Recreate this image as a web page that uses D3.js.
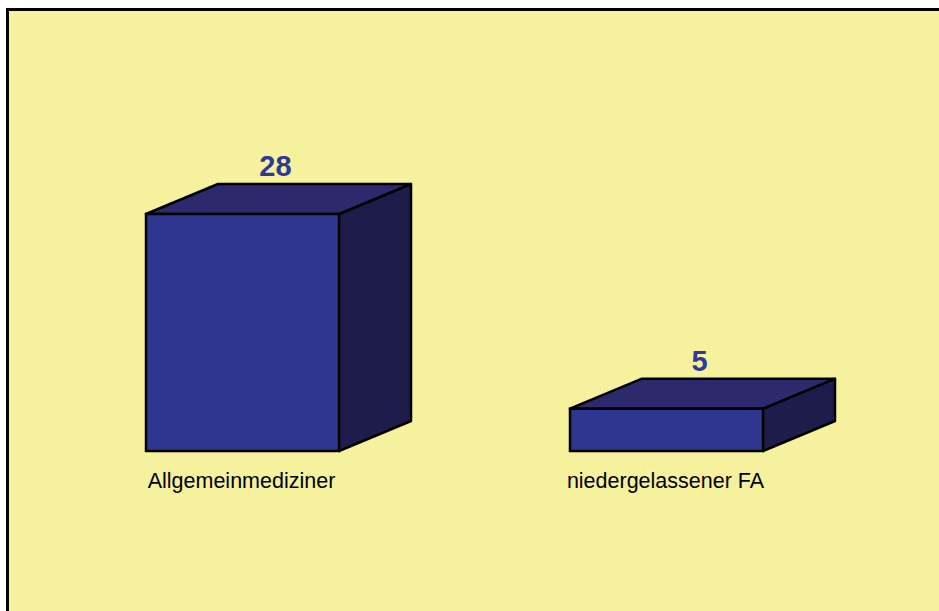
<!DOCTYPE html>
<html><head><meta charset="utf-8">
<script src="https://cdn.jsdelivr.net/npm/d3@7"></script>
<style>html,body{margin:0;padding:0;background:#fff;overflow:hidden}</style>
</head><body>
<script>
const categories = ["Allgemeinmediziner", "niedergelassener FA"];
const values = [28, 5];

const W = 939, H = 611;
const svg = d3.select("body").append("svg").attr("width", W).attr("height", H);

svg.append("rect").attr("x", 7.5).attr("y", 9.5).attr("width", W + 20).attr("height", H + 20)
  .attr("fill", "#F5F19D").attr("stroke", "#000").attr("stroke-width", 3);

const x = d3.scaleBand().domain(categories).range([146, 763]).paddingInner(0.5448).paddingOuter(0);
const y = d3.scaleLinear().domain([0, d3.max(values)]).range([451, 214]);
const dx = 72, dy = 30;

const g = svg.append("g");
categories.forEach((c, i) => {
  const x0 = x(c), x1 = x0 + x.bandwidth(), y0 = y(0), y1 = y(values[i]);
  g.append("path").attr("d", `M${x1},${y1}L${x1+dx},${y1-dy}L${x1+dx},${y0-dy}L${x1},${y0}Z`)
    .attr("fill", "#1E1C4A").attr("stroke", "#000").attr("stroke-width", 2.5).attr("stroke-linejoin", "round");
  g.append("path").attr("d", `M${x0},${y1}L${x0+dx},${y1-dy}L${x1+dx},${y1-dy}L${x1},${y1}Z`)
    .attr("fill", "#2C2A6C").attr("stroke", "#000").attr("stroke-width", 2.5).attr("stroke-linejoin", "round");
  g.append("rect").attr("x", x0).attr("y", y1).attr("width", x1 - x0).attr("height", y0 - y1)
    .attr("fill", "#2E3790").attr("stroke", "#000").attr("stroke-width", 2.5);
  g.append("text").attr("x", (x0 + x1) / 2 + 33).attr("y", y1 - dy - 8)
    .attr("text-anchor", "middle").attr("font-family", "Liberation Sans, Arial, sans-serif")
    .attr("font-weight", "bold").attr("font-size", 29).attr("fill", "#2E3A9A").text(values[i]);
  g.append("text").attr("x", (x0 + x1) / 2 - 1).attr("y", y0 + 37)
    .attr("text-anchor", "middle").attr("font-family", "Liberation Sans, Arial, sans-serif")
    .attr("font-size", 21.5).attr("fill", "#000").text(c);
});
</script>
</body></html>
